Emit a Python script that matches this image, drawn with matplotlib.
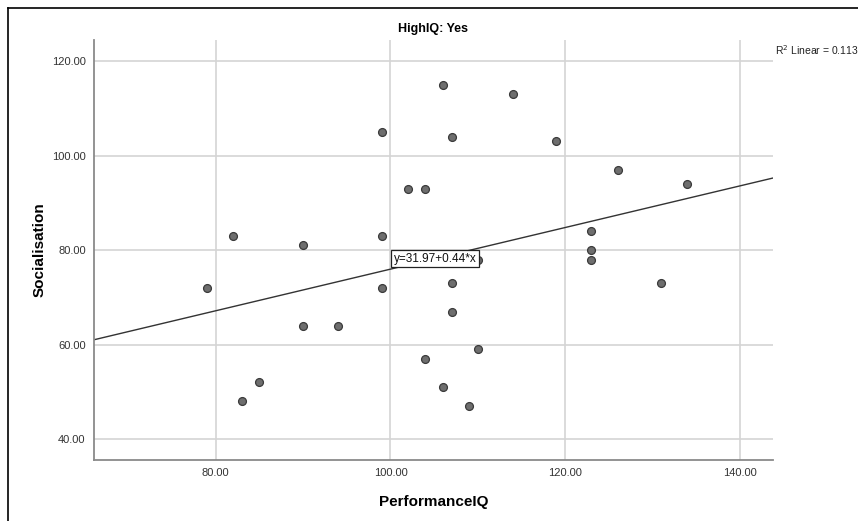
import numpy as np
import matplotlib
matplotlib.use("Agg")
import matplotlib.pyplot as plt
from matplotlib.lines import Line2D

plt.rcParams['font.family'] = ['Liberation Sans', 'DejaVu Sans']

# data
perf_iq = [79, 82, 83, 85, 90, 90, 94, 99, 99, 99, 102, 104, 104, 106, 106,
           107, 107, 107, 109, 110, 110, 114, 119, 123, 123, 123, 126, 131, 134]
social = [72, 83, 48, 52, 81, 64, 64, 105, 83, 72, 93, 93, 57, 115, 51,
          104, 73, 67, 47, 59, 78, 113, 103, 84, 80, 78, 97, 73, 94]
intercept = 31.97
slope = 0.44
r2 = 0.113
x_ticks = [80, 100, 120, 140]
y_ticks = [40, 60, 80, 100, 120]

fig = plt.figure(figsize=(8.58, 5.21), dpi=100)
ax = fig.add_axes([0.1096, 0.117, 0.7914, 0.806])

xlim = (66.06, 143.8)
ylim = (35.6, 124.4)

ax.grid(True, color='#d4d4d4', lw=1.2, zorder=0)
ax.set_axisbelow(True)

xs = np.array(xlim)
ax.plot(xs, intercept + slope * xs, color='#333333', lw=1.0, zorder=2)

ax.scatter(perf_iq, social, s=32, facecolor='#6e6e6e', edgecolor='#3a3a3a',
           linewidth=0.9, zorder=3)

xm = 105.1
ax.text(xm, intercept + slope * xm, 'y=%.2f+%.2f*x' % (intercept, slope),
        ha='center', va='center', fontsize=8.5, color='#111111', zorder=4,
        bbox=dict(boxstyle='square,pad=0.25', fc='white', ec='#222222', lw=0.9))

ax.set_xlim(xlim)
ax.set_ylim(ylim)
ax.set_xticks(x_ticks)
ax.set_yticks(y_ticks)
ax.set_xticklabels(['%.2f' % v for v in x_ticks])
ax.set_yticklabels(['%.2f' % v for v in y_ticks])
ax.tick_params(length=0, labelsize=8, colors='#333333', pad=6)

for s in ['top', 'right']:
    ax.spines[s].set_visible(False)
for s in ['left', 'bottom']:
    ax.spines[s].set_color('#8a8a8a')
    ax.spines[s].set_linewidth(1.3)

ax.set_xlabel('PerformanceIQ', fontsize=11, fontweight='bold', labelpad=12)
ax.set_ylabel('Socialisation', fontsize=11, fontweight='bold', labelpad=4)

fig.text(433 / 858, 1 - 29 / 521, 'HighIQ: Yes', ha='center', va='center',
         fontsize=9, fontweight='bold')
fig.text(775 / 858, 1 - 50 / 521, 'R$^2$ Linear = %.3f' % r2, ha='left',
         va='center', fontsize=7.5, color='#222222')

# outer frame
fig.add_artist(Line2D([8 / 858, 8 / 858], [0, 1 - 8 / 521], color='black',
                      lw=1.2, transform=fig.transFigure))
fig.add_artist(Line2D([8 / 858, 1], [1 - 8 / 521, 1 - 8 / 521], color='black',
                      lw=1.2, transform=fig.transFigure))

fig.savefig('out.png', dpi=100)
